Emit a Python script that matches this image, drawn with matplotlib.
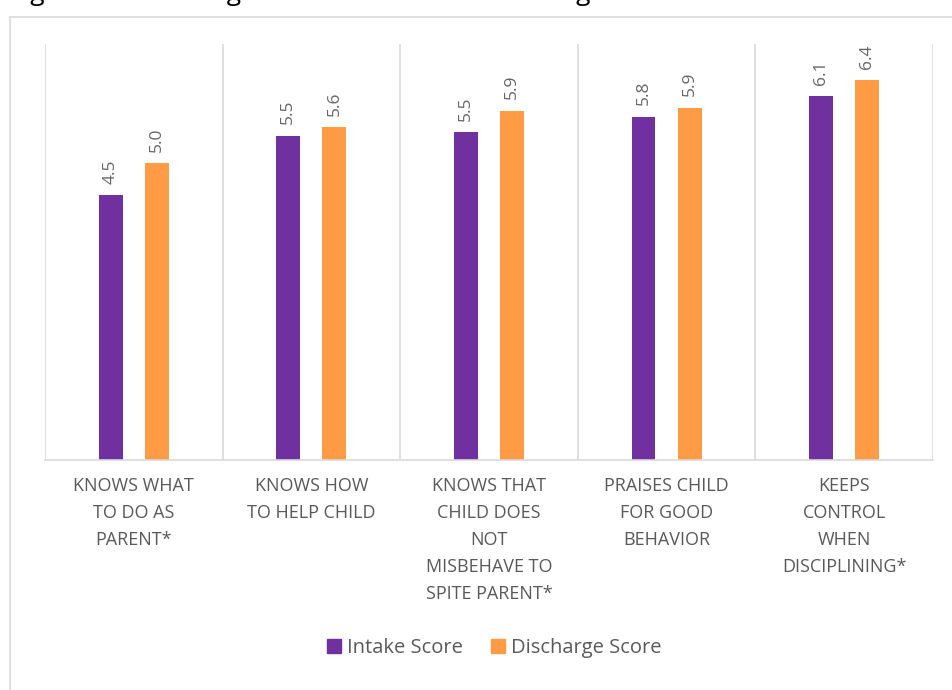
import matplotlib.pyplot as plt
from matplotlib.patches import Rectangle, Patch
import numpy as np

categories = ['KNOWS WHAT\nTO DO AS\nPARENT*',
              'KNOWS HOW\nTO HELP CHILD',
              'KNOWS THAT\nCHILD DOES\nNOT\nMISBEHAVE TO\nSPITE PARENT*',
              'PRAISES CHILD\nFOR GOOD\nBEHAVIOR',
              'KEEPS\nCONTROL\nWHEN\nDISCIPLINING*']
intake = [4.46, 5.46, 5.52, 5.78, 6.12]
discharge = [5.0, 5.6, 5.88, 5.93, 6.4]
series_names = ['Intake Score', 'Discharge Score']

purple = '#7030A0'
orange = '#FF9B45'
grey_text = '#595959'
grid_col = '#D9D9D9'

plt.rcParams['font.family'] = ['Open Sans', 'DejaVu Sans']

fig = plt.figure(figsize=(9.53, 6.9), dpi=100)
ax = fig.add_axes([45 / 953, 1 - 460 / 690, 888 / 953, 416 / 690])

# outer chart border (cut at right/bottom in the reference)
fig.patches.append(Rectangle((10 / 953, -0.1), 1.1, 1 - 17 / 690 + 0.1,
                             transform=fig.transFigure, fill=False,
                             edgecolor=grid_col, linewidth=1.2))

# title, mostly cut off at the top edge as in the reference
fig.text(10 / 953, 1 + 0.5 / 690, 'Figure 7. Parenting Skills at Intake and Discharge',
         fontsize=19, color='black', va='baseline', ha='left')

x = np.arange(len(categories))
w = 0.135
off = 0.13
b1 = ax.bar(x - off, intake, w, color=purple)
b2 = ax.bar(x + off, discharge, w, color=orange)

for bars, vals in [(b1, intake), (b2, discharge)]:
    for b, v in zip(bars, vals):
        ax.annotate('%.1f' % v, (b.get_x() + b.get_width() / 2, v),
                    xytext=(0, 8), textcoords='offset points',
                    rotation=90, ha='center', va='bottom',
                    fontsize=12.5, color='#666666')

for xb in np.arange(len(categories) + 1) - 0.5:
    ax.axvline(xb, color=grid_col, linewidth=1.2, zorder=0)

ax.set_xlim(-0.5, len(categories) - 0.5)
ax.set_ylim(0, 7)
ax.set_yticks([])
ax.set_xticks(x)
ax.set_xticklabels(categories, fontsize=13, color=grey_text, linespacing=1.65)
ax.tick_params(axis='x', length=0, pad=12)
for s in ['left', 'right', 'top']:
    ax.spines[s].set_visible(False)
ax.spines['bottom'].set_color(grid_col)
ax.spines['bottom'].set_linewidth(1.2)

handles = [Patch(color=purple), Patch(color=orange)]
fig.legend(handles, series_names, loc='center', bbox_to_anchor=(494 / 953, 1 - 648 / 690),
           ncol=2, frameon=False, fontsize=14.5, labelcolor=grey_text,
           handlelength=0.7, handleheight=0.7, handletextpad=0.3, columnspacing=1.4)

fig.savefig('out.png', dpi=100)
